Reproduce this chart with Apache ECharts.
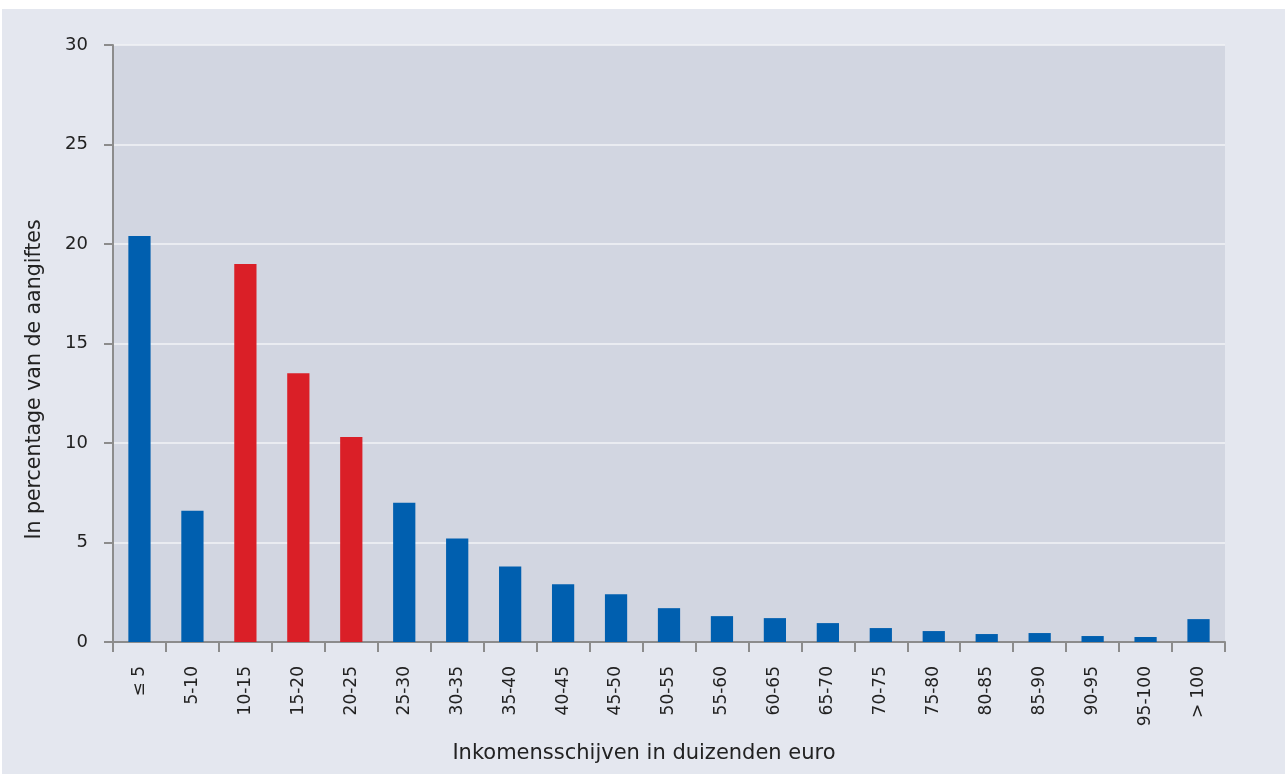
<!DOCTYPE html>
<html>
<head>
<meta charset="utf-8">
<script src="https://cdn.jsdelivr.net/npm/echarts@6/dist/echarts.min.js"></script>
<style>
html,body{margin:0;padding:0;background:#ffffff;}
#c{position:absolute;left:2px;top:9px;width:1283px;height:765px;}
</style>
</head>
<body>
<div id="c"></div>
<script>
const categories = ['≤ 5','5-10','10-15','15-20','20-25','25-30','30-35','35-40','40-45','45-50','50-55','55-60','60-65','65-70','70-75','75-80','80-85','85-90','90-95','95-100','> 100'];
const values = [20.4, 6.6, 19.0, 13.5, 10.3, 7.0, 5.2, 3.8, 2.9, 2.4, 1.7, 1.3, 1.2, 0.95, 0.7, 0.55, 0.4, 0.45, 0.3, 0.25, 1.15];
const highlighted = ['10-15','15-20','20-25'];
const yTicks = [0, 5, 10, 15, 20, 25, 30];

const chart = echarts.init(document.getElementById('c'));
const font = 'DejaVu Sans';
chart.setOption({
  backgroundColor: '#e4e7ef',
  animation: false,
  grid: {left: 111, right: 60, top: 36, bottom: 132, show: true, backgroundColor: '#d2d6e1', borderWidth: 0},
  xAxis: {
    type: 'category',
    data: categories,
    name: 'Inkomensschijven in duizenden euro',
    nameLocation: 'middle',
    nameGap: 101,
    nameTextStyle: {fontFamily: font, fontSize: 21, color: '#222', padding: [0, 50, 0, 0]},
    axisLine: {lineStyle: {color: '#8c8c8c', width: 2}},
    axisTick: {show: true, length: 10, alignWithLabel: false, lineStyle: {color: '#8c8c8c', width: 2}},
    axisLabel: {rotate: 90, margin: 24, fontFamily: font, fontSize: 17, color: '#222', interval: 0},
    splitLine: {show: false}
  },
  yAxis: {
    type: 'value',
    min: yTicks[0],
    max: yTicks[yTicks.length - 1],
    interval: 5,
    name: 'In percentage van de aangiftes',
    nameLocation: 'middle',
    nameGap: 68,
    nameTextStyle: {fontFamily: font, fontSize: 20.5, color: '#222', padding: [0, 72, 0, 0]},
    axisLine: {show: true, lineStyle: {color: '#8c8c8c', width: 2}},
    axisTick: {show: true, length: 9, lineStyle: {color: '#8c8c8c', width: 2}},
    axisLabel: {margin: 25, fontFamily: font, fontSize: 18, color: '#222'},
    splitLine: {show: true, lineStyle: {color: '#f2f3f6', width: 1.5}}
  },
  series: [{
    type: 'bar',
    barWidth: '42%',
    data: values.map((v, i) => ({
      value: v,
      itemStyle: {color: highlighted.includes(categories[i]) ? '#da1f27' : '#005faf'}
    }))
  }]
});
</script>
</body>
</html>
